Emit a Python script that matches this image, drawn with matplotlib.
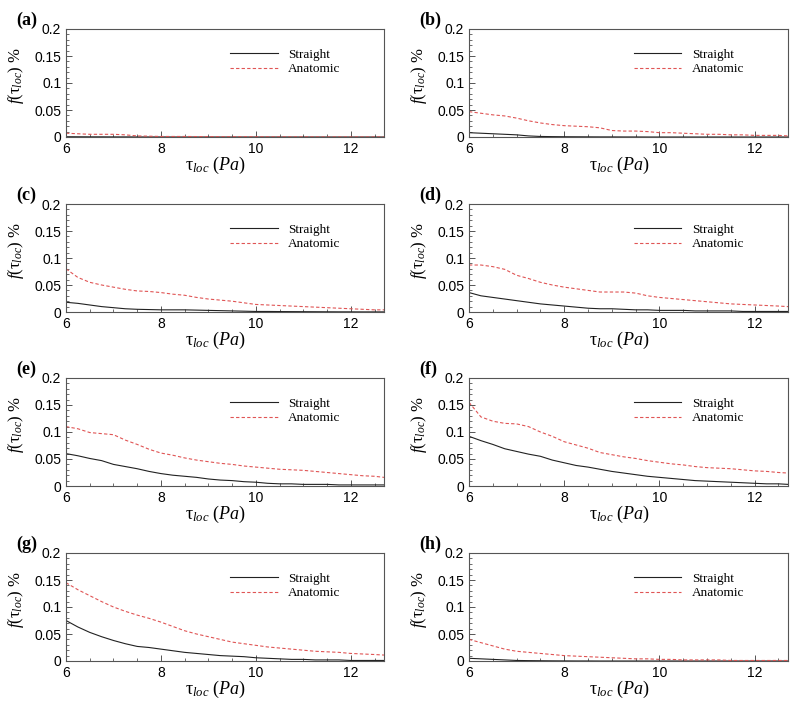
import matplotlib
matplotlib.use("Agg")
import matplotlib.pyplot as plt
from matplotlib.ticker import MultipleLocator

plt.rcParams['mathtext.fontset'] = 'custom'
plt.rcParams['mathtext.rm'] = 'Liberation Serif'
plt.rcParams['mathtext.it'] = 'Liberation Serif:italic'
plt.rcParams['mathtext.bf'] = 'Liberation Serif:bold'

tau = [6.0, 6.25, 6.5, 6.75, 7.0, 7.25, 7.5, 7.75, 8.0, 8.25, 8.5, 8.75, 9.0, 9.25,
       9.5, 9.75, 10.0, 10.25, 10.5, 10.75, 11.0, 11.25, 11.5, 11.75, 12.0, 12.25, 12.5, 12.7]

panel_labels = ['(a)', '(b)', '(c)', '(d)', '(e)', '(f)', '(g)', '(h)']

straight_a = [0.0005, 0.0004, 0.0003, 0.0003, 0.0002, 0.0002, 0.0001, 0.0001, 0.0001, 0, 0, 0, 0, 0,
              0, 0, 0, 0, 0, 0, 0, 0, 0, 0, 0, 0, 0, 0]
anatomic_a = [0.007, 0.006, 0.005, 0.005, 0.005, 0.004, 0.002, 0.0015, 0.001, 0.001, 0.001, 0.0008, 0.0007, 0.0005,
              0.0005, 0.0005, 0.0004, 0.0003, 0.0003, 0.0002, 0.0002, 0.0002, 0.0001, 0.0001, 0.0001, 0.0001, 0.0001, 0.0001]

straight_b = [0.008, 0.007, 0.006, 0.005, 0.004, 0.002, 0.001, 0.0007, 0.0005, 0.0004, 0.0003, 0.0002, 0.0002, 0.0001,
              0.0001, 0, 0, 0, 0, 0, 0, 0, 0, 0, 0, 0, 0, 0]
anatomic_b = [0.047, 0.044, 0.041, 0.039, 0.035, 0.030, 0.026, 0.023, 0.021, 0.020, 0.019, 0.017, 0.012, 0.011,
              0.011, 0.010, 0.008, 0.008, 0.007, 0.006, 0.005, 0.005, 0.004, 0.004, 0.003, 0.003, 0.003, 0.002]

straight_c = [0.018, 0.016, 0.013, 0.010, 0.008, 0.006, 0.005, 0.0045, 0.004, 0.004, 0.004, 0.0035, 0.003, 0.0025,
              0.002, 0.0015, 0.001, 0.001, 0.0008, 0.0007, 0.0006, 0.0005, 0.0004, 0.0003, 0.0003, 0.0002, 0.0002, 0.0002]
anatomic_c = [0.080, 0.064, 0.055, 0.050, 0.046, 0.042, 0.039, 0.038, 0.036, 0.033, 0.031, 0.027, 0.024, 0.022,
              0.020, 0.017, 0.014, 0.013, 0.012, 0.011, 0.010, 0.009, 0.008, 0.007, 0.006, 0.005, 0.004, 0.004]

straight_d = [0.036, 0.030, 0.027, 0.024, 0.021, 0.018, 0.015, 0.013, 0.011, 0.009, 0.007, 0.006, 0.006, 0.005,
              0.004, 0.004, 0.003, 0.003, 0.003, 0.002, 0.002, 0.002, 0.002, 0.001, 0.001, 0.001, 0.001, 0.001]
anatomic_d = [0.087, 0.087, 0.084, 0.079, 0.068, 0.062, 0.055, 0.050, 0.046, 0.043, 0.040, 0.037, 0.037, 0.037,
              0.035, 0.030, 0.027, 0.025, 0.023, 0.021, 0.019, 0.017, 0.015, 0.014, 0.013, 0.012, 0.011, 0.010]

straight_e = [0.060, 0.056, 0.051, 0.047, 0.040, 0.036, 0.032, 0.027, 0.023, 0.020, 0.018, 0.016, 0.013, 0.011,
              0.010, 0.008, 0.007, 0.005, 0.004, 0.004, 0.003, 0.003, 0.003, 0.002, 0.002, 0.002, 0.002, 0.002]
anatomic_e = [0.110, 0.106, 0.099, 0.097, 0.095, 0.085, 0.077, 0.068, 0.061, 0.057, 0.052, 0.048, 0.045, 0.042,
              0.040, 0.037, 0.035, 0.033, 0.031, 0.030, 0.029, 0.027, 0.025, 0.023, 0.021, 0.019, 0.018, 0.016]

straight_f = [0.092, 0.084, 0.077, 0.069, 0.064, 0.059, 0.055, 0.048, 0.043, 0.038, 0.035, 0.031, 0.027, 0.024,
              0.021, 0.018, 0.016, 0.014, 0.012, 0.010, 0.009, 0.008, 0.007, 0.006, 0.005, 0.004, 0.004, 0.003]
anatomic_f = [0.155, 0.128, 0.120, 0.116, 0.115, 0.110, 0.100, 0.092, 0.082, 0.076, 0.070, 0.062, 0.058, 0.054,
              0.051, 0.047, 0.044, 0.041, 0.039, 0.036, 0.034, 0.033, 0.032, 0.030, 0.028, 0.027, 0.025, 0.024]

straight_g = [0.075, 0.063, 0.053, 0.045, 0.038, 0.032, 0.027, 0.025, 0.022, 0.019, 0.016, 0.014, 0.012, 0.010,
              0.009, 0.008, 0.006, 0.005, 0.004, 0.003, 0.003, 0.002, 0.002, 0.002, 0.001, 0.001, 0.001, 0.001]
anatomic_g = [0.145, 0.132, 0.121, 0.110, 0.100, 0.092, 0.085, 0.079, 0.072, 0.064, 0.056, 0.050, 0.045, 0.040,
              0.035, 0.032, 0.029, 0.026, 0.024, 0.022, 0.020, 0.018, 0.017, 0.016, 0.014, 0.013, 0.012, 0.011]

straight_h = [0.005, 0.004, 0.003, 0.002, 0.001, 0.0007, 0.0005, 0.0003, 0.0002, 0.0001, 0.0001, 0, 0, 0,
              0, 0, 0, 0, 0, 0, 0, 0, 0, 0, 0, 0, 0, 0]
anatomic_h = [0.040, 0.034, 0.028, 0.022, 0.018, 0.016, 0.014, 0.012, 0.010, 0.009, 0.008, 0.007, 0.006, 0.005,
              0.004, 0.004, 0.003, 0.003, 0.002, 0.002, 0.002, 0.002, 0.001, 0.001, 0.001, 0.001, 0.001, 0.001]

straight_all = [straight_a, straight_b, straight_c, straight_d, straight_e, straight_f, straight_g, straight_h]
anatomic_all = [anatomic_a, anatomic_b, anatomic_c, anatomic_d, anatomic_e, anatomic_f, anatomic_g, anatomic_h]

W, H = 800, 710
fig = plt.figure(figsize=(8, 7.1), dpi=100)

col_left = [66, 469]
col_width = [318, 319]
row_top = [29, 204, 378, 553]
ax_h = 108

spine_col = '#555555'
for i in range(8):
    r, c = divmod(i, 2)
    l = col_left[c] / W
    b = 1 - (row_top[r] + ax_h) / H
    ax = fig.add_axes([l, b, col_width[c] / W, ax_h / H])
    ax.plot(tau, straight_all[i], color='#222222', lw=0.8, label='Straight')
    ax.plot(tau, anatomic_all[i], color='#e05555', lw=0.8, ls=(0, (3, 2)), label='Anatomic')
    ax.set_xlim(6, 12.7)
    ax.set_ylim(0, 0.2)
    ax.xaxis.set_major_locator(MultipleLocator(2))
    ax.xaxis.set_minor_locator(MultipleLocator(0.5))
    ax.yaxis.set_major_locator(MultipleLocator(0.05))
    ax.yaxis.set_minor_locator(MultipleLocator(0.01))
    ax.tick_params(which='both', direction='in', top=False, right=False, colors=spine_col,
                   labelcolor='black', labelsize=10, labelfontfamily='Liberation Sans')
    ax.tick_params(which='major', length=4, width=0.7)
    ax.tick_params(which='minor', length=2, width=0.6)
    ax.set_yticks([0, 0.05, 0.1, 0.15, 0.2])
    ax.set_yticklabels(['0', '0.05', '0.1', '0.15', '0.2'])
    for s in ax.spines.values():
        s.set_color(spine_col)
        s.set_linewidth(0.8)
    ax.set_xlabel(r'$\mathrm{\tau}_{loc}\ (Pa)$', fontsize=13, labelpad=1)
    ax.xaxis.set_label_coords(0.47, -0.17, transform=ax.transAxes)
    ax.xaxis.label.set_va('top')
    ax.set_ylabel(r'$f(\mathrm{\tau}_{loc})\ \%$', fontsize=12)
    ax.yaxis.set_label_coords(-0.125, 0.565, transform=ax.transAxes)
    ax.legend(loc='upper left', bbox_to_anchor=(0.5, 0.865), frameon=False,
              prop={'family': 'Liberation Serif', 'size': 9.5}, handlelength=3.6,
              handletextpad=0.8, labelspacing=0.15, borderaxespad=0)
    fig.text((col_left[c] - 50) / W, 1 - (row_top[r] - 17) / H, panel_labels[i],
             fontsize=13, fontweight='bold', family='Liberation Serif', va='top', ha='left')

fig.savefig('out.png', dpi=100)
